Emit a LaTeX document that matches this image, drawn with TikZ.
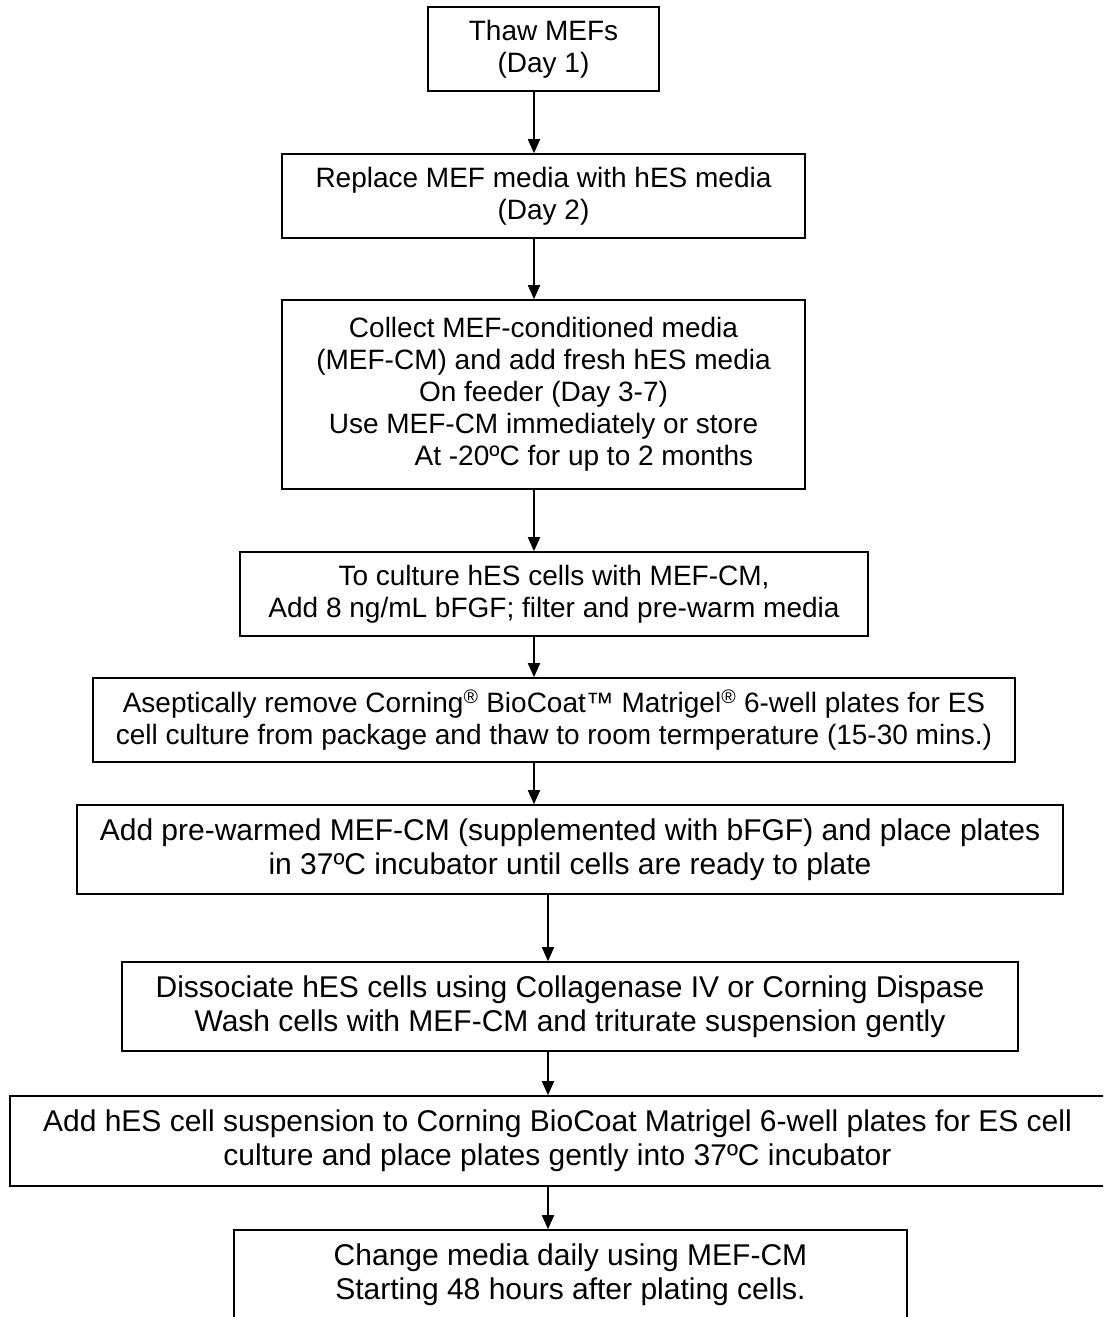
\documentclass[tikz,border=0pt]{standalone}
\usepackage{fontspec}
\setmainfont{Liberation Sans}
\usetikzlibrary{arrows.meta}

\tikzset{
  stepbox/.style={draw=black, line width=1.6pt, align=center, inner sep=0pt,
    font=\fontsize{28}{32}\selectfont},
  bigstep/.style={stepbox, font=\fontsize{30}{34}\selectfont},
  flow/.style={draw=black, line width=1.8pt, -{Triangle[width=12pt,length=14pt]}}
}

\begin{document}
\begin{tikzpicture}[x=1pt,y=-1pt]
  \clip (0,0) rectangle (1103,1317);
  \fill[white] (0,0) rectangle (1103,1317);

% columns the arrows run down
  \coordinate (colA) at (534,0);
  \coordinate (colB) at (548,0);

% the steps, top to bottom
  \node[stepbox, minimum width=231pt, minimum height=84pt] (thaw) at (543.5,49)
    {Thaw MEFs\\(Day 1)};
  \node[stepbox, minimum width=523pt, minimum height=84pt] (replace) at (543.5,196)
    {Replace MEF media with hES media\\(Day 2)};
  \node[stepbox, minimum width=523pt, minimum height=189pt] (collect) at (543.5,394.5)
    {Collect MEF-conditioned media\\(MEF-CM) and add fresh hES media\\On feeder (Day 3-7)\\
     Use MEF-CM immediately or store\\\hspace*{81pt}At -20ºC for up to 2 months};
  \node[stepbox, minimum width=628pt, minimum height=84pt] (culture) at (554,594)
    {To culture hES cells with MEF-CM,\\Add 8 ng/mL bFGF; filter and pre-warm media};
  \node[stepbox, minimum width=922pt, minimum height=84pt] (remove) at (554,720)
    {Aseptically remove Corning\textsuperscript{®} BioCoat™ Matrigel\textsuperscript{®} 6-well plates for ES\\
     cell culture from package and thaw to room termperature (15-30 mins.)};
  \node[bigstep, minimum width=986pt, minimum height=89pt] (warm) at (570,849.5)
    {Add pre-warmed MEF-CM (supplemented with bFGF) and place plates\\
     in 37ºC incubator until cells are ready to plate};
  \node[bigstep, minimum width=896pt, minimum height=89pt] (dissoc) at (570,1006.5)
    {Dissociate hES cells using Collagenase IV or Corning Dispase\\
     Wash cells with MEF-CM and triturate suspension gently};
  \node[bigstep, minimum width=1095pt, minimum height=90pt] (plate) at (557.5,1141)
    {Add hES cell suspension to Corning BioCoat Matrigel 6-well plates for ES cell\\
     culture and place plates gently into 37ºC incubator};
  \node[bigstep, minimum width=673pt, minimum height=90pt] (change) at (570.5,1275)
    {Change media daily using MEF-CM\\Starting 48 hours after plating cells.};

% arrows
  \draw[flow] (thaw.south -| colA) -- (replace.north -| colA);
  \draw[flow] (replace.south -| colA) -- (collect.north -| colA);
  \draw[flow] (collect.south -| colA) -- (culture.north -| colA);
  \draw[flow] (culture.south -| colA) -- (remove.north -| colA);
  \draw[flow] (remove.south -| colA) -- (warm.north -| colA);
  \draw[flow] (warm.south -| colB) -- (dissoc.north -| colB);
  \draw[flow] (dissoc.south -| colB) -- (plate.north -| colB);
  \draw[flow] (plate.south -| colB) -- (change.north -| colB);
\end{tikzpicture}
\end{document}
